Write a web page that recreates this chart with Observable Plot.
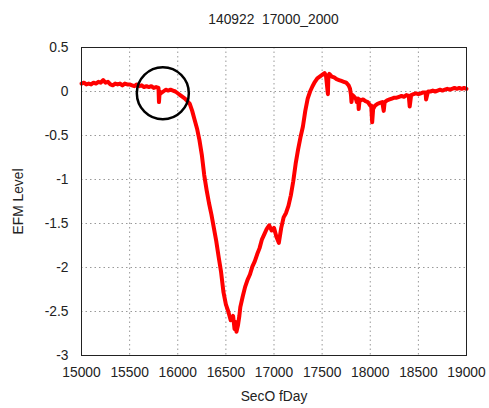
<!DOCTYPE html>
<html><head><meta charset="utf-8">
<script src="https://cdn.jsdelivr.net/npm/d3@7"></script>
<script src="https://cdn.jsdelivr.net/npm/@observablehq/plot@0.6"></script>
<style>
body{margin:0;background:#fff;font-family:"Liberation Sans",Arial,sans-serif;}
#title{height:36px;box-sizing:border-box;padding:12px 23px 0 81px;text-align:center;font-size:13.8px;line-height:16px;color:#222;white-space:pre;}
</style></head><body>
<div id="title">140922  17000_2000</div>
<div id="chart"></div>
<script>
const titleText = "140922  17000_2000";
const xLabel = "SecO fDay";
const yLabel = "EFM Level";
const xTicks = [15000,15500,16000,16500,17000,17500,18000,18500,19000];
const yTicks = [-3,-2.5,-2,-1.5,-1,-0.5,0,0.5];

const secOfDay = [
15000,15025,15050,15075,15100,15125,15150,15175,15200,15225,15250,15275,15300,15325,15350,15375,15400,15425,15450,15475,
15500,15525,15550,15575,15600,15625,15650,15675,15700,15725,15750,15775,15800,15805,15812,15825,15850,15875,15900,15925,
15950,15975,16000,16025,16050,16075,16100,16125,16150,16175,16200,16225,16250,16275,16300,16325,16350,16375,16400,16425,
16450,16475,16500,16525,16550,16575,16590,16600,16610,16625,16640,16650,16675,16700,16725,16750,16775,16800,16825,16850,
16875,16900,16925,16950,16975,17000,17025,17050,17075,17100,17125,17150,17175,17200,17225,17250,17275,17300,17325,17350,
17375,17400,17425,17450,17475,17500,17525,17540,17560,17565,17575,17600,17625,17650,17675,17700,17725,17750,17775,17790,
17800,17805,17815,17825,17850,17860,17875,17880,17890,17900,17925,17950,17975,18000,18010,18020,18030,18050,18075,18100,
18125,18140,18150,18175,18200,18225,18250,18275,18300,18325,18350,18375,18400,18410,18425,18450,18475,18500,18525,18550,
18575,18580,18600,18625,18650,18675,18700,18725,18750,18775,18800,18825,18850,18875,18900,18925,18950,18975,19000
];
const efmLevel = [
0.09,0.10,0.08,0.09,0.08,0.10,0.09,0.11,0.10,0.13,0.10,0.11,0.08,0.07,0.09,0.08,0.09,0.07,0.09,0.08,
0.08,0.07,0.06,0.08,0.06,0.07,0.05,0.06,0.05,0.06,0.04,0.05,0.04,-0.12,0.00,-0.02,0.00,0.02,0.01,0.02,
0.01,0.00,-0.02,-0.04,-0.06,-0.08,-0.11,-0.14,-0.22,-0.32,-0.42,-0.55,-0.72,-0.95,-1.12,-1.27,-1.40,-1.55,-1.70,-1.88,
-2.05,-2.28,-2.42,-2.50,-2.60,-2.55,-2.70,-2.62,-2.73,-2.66,-2.55,-2.45,-2.33,-2.22,-2.14,-2.08,-1.99,-1.93,-1.85,-1.78,
-1.68,-1.62,-1.56,-1.52,-1.58,-1.55,-1.65,-1.72,-1.55,-1.43,-1.38,-1.30,-1.18,-1.02,-0.82,-0.66,-0.52,-0.40,-0.22,-0.08,
0.00,0.06,0.11,0.15,0.17,0.19,0.21,0.18,-0.03,0.18,0.20,0.17,0.16,0.14,0.13,0.12,0.11,0.10,0.07,0.03,
-0.04,-0.12,-0.04,-0.05,-0.08,-0.12,-0.08,-0.20,-0.09,-0.10,-0.09,-0.11,-0.12,-0.16,-0.16,-0.35,-0.20,-0.16,-0.14,-0.13,
-0.12,-0.22,-0.12,-0.10,-0.09,-0.08,-0.07,-0.07,-0.06,-0.05,-0.06,-0.04,-0.05,-0.17,-0.04,-0.03,-0.02,-0.03,-0.02,-0.01,
-0.01,-0.09,0.00,0.00,0.01,0.00,0.01,0.02,0.01,0.02,0.03,0.02,0.03,0.04,0.03,0.04,0.03,0.04,0.03
];
const circleCenter = [{t: 15845, v: -0.02}];

const data = secOfDay.map((t, i) => ({t, v: efmLevel[i]}));
const grid = {stroke: "#999", strokeOpacity: 1, strokeDasharray: "1.5,3"};

const chart = Plot.plot({
  width: 489, height: 372,
  marginLeft: 81, marginRight: 23, marginTop: 11, marginBottom: 53,
  style: {fontFamily: "'Liberation Sans', Arial, sans-serif", fontSize: "13.8px", color: "#222", background: "#fff"},
  x: {domain: [15000, 19000], ticks: xTicks, tickFormat: d => String(d), label: xLabel, labelAnchor: "center", labelArrow: "none", tickSize: 0, tickPadding: 12, labelOffset: 45},
  y: {domain: [-3, 0.5], ticks: yTicks, tickFormat: d => String(d), label: yLabel, labelAnchor: "center", labelArrow: "none", tickSize: 0, tickPadding: 13, labelOffset: 68},
  marks: [
    Plot.gridX(xTicks, grid),
    Plot.gridY(yTicks, grid),
    Plot.line(data, {x: "t", y: "v", stroke: "#ff0000", strokeWidth: 4}),
    Plot.dot(circleCenter, {x: "t", y: "v", r: 26, stroke: "black", strokeWidth: 2.5, fill: "none"}),
    Plot.frame({stroke: "#222"})
  ]
});
document.getElementById("chart").appendChild(chart);
</script>
</body></html>
